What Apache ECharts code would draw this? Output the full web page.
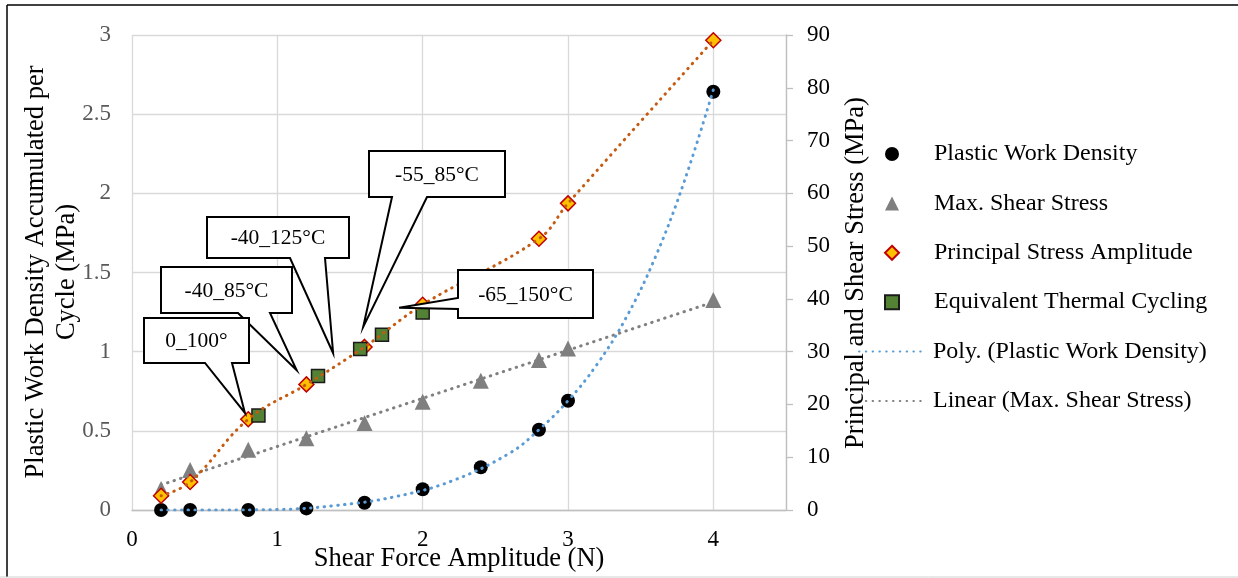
<!DOCTYPE html>
<html><head><meta charset="utf-8">
<script src="https://cdn.jsdelivr.net/npm/echarts@6/dist/echarts.min.js"></script>
<style>html,body{margin:0;padding:0;background:#fff}#c{width:1238px;height:578px}</style>
</head><body><div id="c"></div>
<script>
// ---- data ----
const forceX = [0.2, 0.4, 0.8, 1.2, 1.6, 2.0, 2.4, 2.8, 3.0, 4.0];
const plasticWork = [0, 0, 0, 0.01, 0.046, 0.131, 0.27, 0.507, 0.69, 2.642];
const maxShear = [4.0, 7.6, 11.4, 13.6, 16.5, 20.5, 24.5, 28.4, 30.6, 39.8];
const principalX = [0.2, 0.4, 0.8, 1.2, 1.6, 2.0, 2.8, 3.0, 4.0];
const principal = [2.7, 5.3, 17.2, 23.8, 30.9, 38.9, 51.4, 58.1, 89.0];
const thermalX = [0.87, 1.28, 1.57, 1.72, 2.0];
const thermal = [17.9, 25.4, 30.5, 33.2, 37.4];
const thermalLabels = ['0_100°', '-40_85°C', '-40_125°C', '-55_85°C', '-65_150°C'];
const calloutTipX = [0.777, 1.133, 1.384, 1.591, 1.838];
const calloutTipY = [18.4, 26.5, 29.7, 34.7, 38.3];
const polyX = [0.2, 0.6, 1.0, 1.4, 1.8, 2.2, 2.6, 2.8, 3.0, 3.2, 3.4, 3.6, 3.8, 4.0];
const polyY = [0, 0, 0.003, 0.028, 0.082, 0.183, 0.36, 0.507, 0.69, 0.92, 1.215, 1.595, 2.075, 2.655];
const linearX = [0.2, 4.0];
const linearY = [4.75, 39.4];
const xRange = [0, 4.5];
const leftRange = [0, 3];
const rightRange = [0, 90];

const FONT = '"Liberation Serif", "Times New Roman", serif';
const zip = (a, b) => a.map((v, i) => [v, b[i]]);
const dots = (c) => ({ color: c, width: 3, type: [0.5, 6.3], cap: 'round' });

const chart = echarts.init(document.getElementById('c'), null, { renderer: 'canvas' });
const names = ['Plastic Work Density', 'Max. Shear Stress', 'Principal Stress Amplitude',
  'Equivalent Thermal Cycling', 'Poly. (Plastic Work Density)', 'Linear (Max. Shear Stress)'];
const legendText = { fontFamily: FONT, fontSize: 24, color: '#000', lineHeight: 24 };

chart.setOption({
  animation: false,
  grid: { left: 132, right: 452, top: 35, bottom: 68 },
  xAxis: {
    type: 'value', min: xRange[0], max: xRange[1], interval: 1,
    axisLine: { show: true, lineStyle: { color: '#BFBFBF', width: 1.3 } },
    axisTick: { show: false },
    splitLine: { show: true, lineStyle: { color: '#D9D9D9', width: 1.3 } },
    axisLabel: { fontFamily: FONT, fontSize: 23, color: '#000', margin: 18, showMaxLabel: false }
  },
  yAxis: [{
    type: 'value', min: leftRange[0], max: leftRange[1], interval: 0.5, position: 'left',
    axisLine: { show: false }, axisTick: { show: false },
    splitLine: { show: true, lineStyle: { color: '#D9D9D9', width: 1.3 } },
    axisLabel: { fontFamily: FONT, fontSize: 23, color: '#595959', margin: 21 }
  }, {
    type: 'value', min: rightRange[0], max: rightRange[1], interval: 10, position: 'right',
    axisLine: { show: true, lineStyle: { color: '#BFBFBF', width: 1.3 } },
    axisTick: { show: true, inside: false, length: 7, lineStyle: { color: '#BFBFBF', width: 1.3 } },
    splitLine: { show: false },
    axisLabel: { fontFamily: FONT, fontSize: 23, color: '#000', margin: 21 }
  }],
  legend: [{
    orient: 'vertical', left: 879, top: 137, itemWidth: 14, itemHeight: 14, itemGap: 25.4,
    selectedMode: false, data: names.slice(0, 4),
    textStyle: Object.assign({ padding: [0, 0, 0, 30] }, legendText)
  }, {
    orient: 'vertical', left: 853, top: 334.6, itemWidth: 66, itemHeight: 14, itemGap: 25.4,
    selectedMode: false, data: names.slice(4),
    textStyle: Object.assign({ padding: [0, 0, 0, 3] }, legendText)
  }],
  series: [
    { name: names[0], type: 'scatter', yAxisIndex: 0, data: zip(forceX, plasticWork),
      symbol: 'circle', symbolSize: 14, itemStyle: { color: '#000', opacity: 1 }, z: 2 },
    { name: names[1], type: 'scatter', yAxisIndex: 1, data: zip(forceX, maxShear),
      symbol: 'triangle', symbolSize: 16, itemStyle: { color: '#7F7F7F', opacity: 1 }, z: 2 },
    { name: names[2], type: 'scatter', yAxisIndex: 1, data: zip(principalX, principal),
      symbol: 'diamond', symbolSize: 15, itemStyle: { color: '#FFC000', borderColor: '#C00000', borderWidth: 1.5, opacity: 1 }, z: 2 },
    { name: names[3], type: 'scatter', yAxisIndex: 1, data: zip(thermalX, thermal),
      symbol: 'rect', symbolSize: 13, itemStyle: { color: '#548235', borderColor: '#1a1a1a', borderWidth: 1.5, opacity: 1 }, z: 3 },
    { name: names[4], type: 'line', yAxisIndex: 0, data: zip(polyX, polyY), smooth: 0.4,
      symbol: 'none', lineStyle: dots('#5B9BD5'), itemStyle: { color: '#5B9BD5', opacity: 0 }, z: 5 },
    { name: names[5], type: 'line', yAxisIndex: 1, data: zip(linearX, linearY),
      symbol: 'none', lineStyle: dots('#808080'), itemStyle: { color: '#808080', opacity: 0 }, z: 5 },
    { name: 'principalCurve', type: 'line', yAxisIndex: 1, data: zip(principalX, principal),
      smooth: 0.4,
      symbol: 'none', lineStyle: dots('#C55A11'), itemStyle: { color: '#C55A11', opacity: 0 }, z: 5 }
  ]
});

// ---- callouts (box layout in pixels, tip anchored to data coordinates) ----
const calloutBoxes = [
  { box: [144, 318, 249, 363], side: 'bottom', base: [205, 232] },
  { box: [161, 267, 292, 313], side: 'bottom', base: [238, 270] },
  { box: [207, 217, 349, 258], side: 'bottom', base: [290, 325] },
  { box: [369, 151, 505, 197], side: 'bottom', base: [392, 427] },
  { box: [458, 270, 593, 318], side: 'left', base: [298, 309] }
];
const graphics = [];
const order = [2, 1, 0, 3, 4];
order.forEach((i) => {
  const c = calloutBoxes[i];
  const tip = chart.convertToPixel({ xAxisIndex: 0, yAxisIndex: 1 }, [calloutTipX[i], calloutTipY[i]]);
  const [x0, y0, x1, y1] = c.box;
  let pts;
  if (c.side === 'bottom') {
    pts = [[x0, y0], [x1, y0], [x1, y1], [c.base[1], y1], tip, [c.base[0], y1], [x0, y1]];
  } else {
    pts = [[x0, y0], [x1, y0], [x1, y1], [x0, y1], [x0, c.base[1]], tip, [x0, c.base[0]]];
  }
  graphics.push({ type: 'polygon', shape: { points: pts }, z: 100,
    style: { fill: '#fff', stroke: '#000', lineWidth: 2, lineJoin: 'miter' } });
  graphics.push({ type: 'text', x: (x0 + x1) / 2, y: (y0 + y1) / 2 + 1, z: 101,
    style: { text: thermalLabels[i], font: '21.5px ' + FONT, fill: '#000', textAlign: 'center', textVerticalAlign: 'middle' } });
});
// axis titles
graphics.push({ type: 'text', x: 459, y: 559, z: 50,
  style: { text: 'Shear Force Amplitude (N)', font: '26.5px ' + FONT, fill: '#000', textAlign: 'center', textVerticalAlign: 'middle' } });
graphics.push({ type: 'text', x: 51.5, y: 272, rotation: Math.PI / 2, z: 50,
  style: { text: 'Plastic Work Density Accumulated per\nCycle (MPa)', font: '26.5px ' + FONT, lineHeight: 31, fill: '#000', textAlign: 'center', textVerticalAlign: 'middle' } });
graphics.push({ type: 'text', x: 856, y: 273, rotation: Math.PI / 2, z: 50,
  style: { text: 'Principal and Shear Stress (MPa)', font: '26.5px ' + FONT, fill: '#000', textAlign: 'center', textVerticalAlign: 'middle' } });
// outer frame
graphics.push({ type: 'line', shape: { x1: 7, y1: 5, x2: 1238, y2: 5 }, style: { stroke: '#000', lineWidth: 1.5 }, z: 1 });
graphics.push({ type: 'line', shape: { x1: 7, y1: 5, x2: 7, y2: 577 }, style: { stroke: '#000', lineWidth: 1.5 }, z: 1 });
graphics.push({ type: 'line', shape: { x1: 0, y1: 577, x2: 1238, y2: 577 }, style: { stroke: '#D0D0D0', lineWidth: 1 }, z: 1 });
chart.setOption({ graphic: graphics });
</script></body></html>
